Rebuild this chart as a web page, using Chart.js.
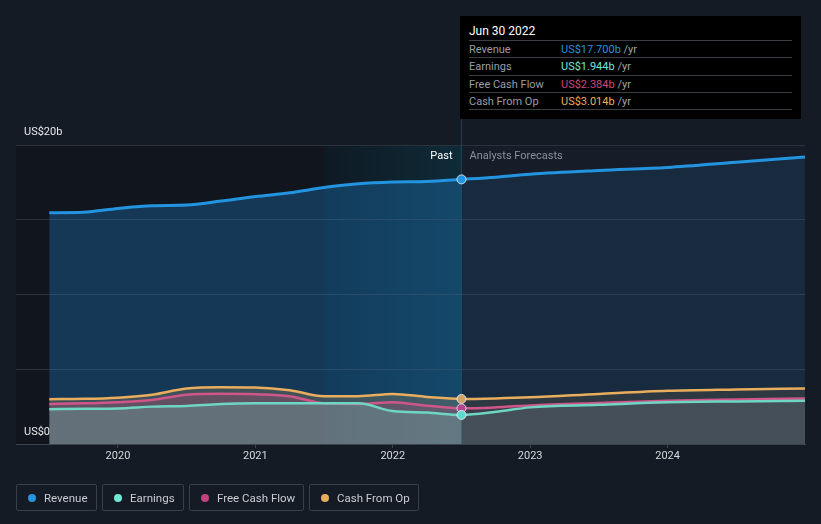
<!DOCTYPE html>
<html>
<head>
<meta charset="utf-8">
<script src="https://cdn.jsdelivr.net/npm/chart.js@4.4.1/dist/chart.umd.min.js"></script>
<style>
  html, body { margin: 0; padding: 0; background: #151b25; }
  body { width: 821px; height: 524px; overflow: hidden; font-family: Roboto, "Open Sans", sans-serif; }
  .wrap { position: relative; width: 821px; height: 524px; }
  canvas { position: absolute; left: 0; top: 0; }
  .tip { position: absolute; left: 460px; top: 16px; width: 341px; height: 103px; background: #000; }
  .tip .ttl { position: absolute; left: 9px; top: 8px; color: #fff; font-size: 12px; }
  .tip .row { position: absolute; left: 9px; width: 323px; height: 17px; border-top: 1px solid #3b3e43; font-size: 11px; line-height: 17px; }
  .tip .row .lb { position: absolute; left: 0; color: #9a9ea5; }
  .tip .row .vl { position: absolute; left: 92px; color: #a0a4aa; }
  .tip .end { position: absolute; left: 9px; top: 93px; width: 323px; border-top: 1px solid #3b3e43; }
  .legend { position: absolute; left: 16px; top: 484px; display: flex; }
  .legend .it { height: 25px; border: 1px solid #3a3f48; border-radius: 2px; margin-right: 5px; display: flex; align-items: center; padding: 0 0 0 11px; color: #c9ccd1; font-size: 11.5px; box-sizing: border-box; height: 27px; white-space: nowrap; overflow: hidden; }
  .legend .dot { width: 8px; height: 8px; border-radius: 50%; margin-right: 8px; flex: none; }
</style>
</head>
<body>
<div class="wrap">
  <canvas id="chart" width="821" height="524"></canvas>
  <div class="tip">
    <div class="ttl">Jun 30 2022</div>
    <div class="row" style="top:24px"><span class="lb">Revenue</span><span class="vl"><span style="color:#2394df">US$17.700b</span> /yr</span></div>
    <div class="row" style="top:41px"><span class="lb">Earnings</span><span class="vl"><span style="color:#71e7d6">US$1.944b</span> /yr</span></div>
    <div class="row" style="top:59px"><span class="lb">Free Cash Flow</span><span class="vl"><span style="color:#c9467f">US$2.384b</span> /yr</span></div>
    <div class="row" style="top:76px"><span class="lb">Cash From Op</span><span class="vl"><span style="color:#e8ad5d">US$3.014b</span> /yr</span></div>
    <div class="end"></div>
  </div>
  <div class="legend">
    <div class="it" style="width:81px"><span class="dot" style="background:#2394df"></span>Revenue</div>
    <div class="it" style="width:82px"><span class="dot" style="background:#71e7d6"></span>Earnings</div>
    <div class="it" style="width:115px"><span class="dot" style="background:#c2427f"></span>Free Cash Flow</div>
    <div class="it" style="width:110px"><span class="dot" style="background:#e8ad5d"></span>Cash From Op</div>
  </div>
</div>
<script>
// time axis in decimal years, past quarters then analyst forecasts
const dates = [2019.5, 2019.75, 2020, 2020.25, 2020.5, 2020.75, 2021, 2021.25, 2021.5, 2021.75, 2022, 2022.25, 2022.5,
               2022.75, 2023, 2023.5, 2024, 2024.5, 2025];
// US$ billions
const revenue  = [15.47, 15.5, 15.76, 15.94, 15.98, 16.25, 16.55, 16.8, 17.15, 17.4, 17.52, 17.56, 17.7,
                  17.85, 18.05, 18.3, 18.5, 18.85, 19.2];
const earnings = [2.32, 2.36, 2.38, 2.5, 2.55, 2.68, 2.72, 2.72, 2.72, 2.72, 2.2, 2.1, 1.944,
                  2.15, 2.45, 2.62, 2.79, 2.85, 2.9];
const freeCashFlow = [2.68, 2.72, 2.8, 2.95, 3.3, 3.36, 3.33, 3.2, 2.72, 2.68, 2.8, 2.56, 2.384,
                  2.45, 2.58, 2.75, 2.9, 2.98, 3.05];
const cashFromOp = [3.0, 3.02, 3.1, 3.3, 3.72, 3.8, 3.78, 3.6, 3.2, 3.2, 3.35, 3.15, 3.014,
                  3.05, 3.12, 3.35, 3.56, 3.65, 3.72];
const yearTicks = [2020, 2021, 2022, 2023, 2024];
const yTickLabels = ['US$0', 'US$20b'];
const nowDate = 2022.5;
const bandStart = 2021.5;

function pts(vals) {
  return dates.map((d, i) => ({ x: d, y: vals[i] }));
}

// fill that is stronger in the past than in the forecast part
function splitFill(rgb, aPast, aFut) {
  return function (ctx) {
    const chart = ctx.chart;
    const area = chart.chartArea;
    if (!area) return 'rgba(' + rgb + ',' + aPast + ')';
    const xs = chart.scales.x;
    const p = Math.min(1, Math.max(0, (xs.getPixelForValue(nowDate) - area.left) / (area.right - area.left)));
    const g = chart.ctx.createLinearGradient(area.left, 0, area.right, 0);
    g.addColorStop(0, 'rgba(' + rgb + ',' + aPast + ')');
    g.addColorStop(p, 'rgba(' + rgb + ',' + aPast + ')');
    g.addColorStop(p, 'rgba(' + rgb + ',' + aFut + ')');
    g.addColorStop(1, 'rgba(' + rgb + ',' + aFut + ')');
    return g;
  };
}

function nowPoint(r) {
  return ctx => (ctx.raw && ctx.raw.x === nowDate ? r : 0);
}

function ds(label, vals, color, rgb, aPast, aFut, width, pointColor) {
  return {
    label: label,
    data: pts(vals),
    borderColor: color,
    borderWidth: width,
    backgroundColor: splitFill(rgb, aPast, aFut),
    fill: 'origin',
    cubicInterpolationMode: 'monotone',
    pointRadius: nowPoint(4.5),
    pointHoverRadius: 0,
    pointBackgroundColor: pointColor,
    pointBorderColor: 'rgba(235,240,245,0.85)',
    pointBorderWidth: 1
  };
}

const backdrop = {
  id: 'backdrop',
  beforeDraw(chart) {
    const c = chart.ctx, a = chart.chartArea, xs = chart.scales.x;
    const xb = xs.getPixelForValue(bandStart), xn = xs.getPixelForValue(nowDate);
    c.save();
    c.fillStyle = '#11151d';
    c.fillRect(a.left, a.top, xb - a.left, a.bottom - a.top);
    const g = c.createLinearGradient(xb, 0, xn, 0);
    g.addColorStop(0, '#0e1a23');
    g.addColorStop(1, '#0f2b38');
    c.fillStyle = g;
    c.fillRect(xb, a.top, xn - xb, a.bottom - a.top);
    c.fillStyle = '#161d28';
    c.fillRect(xn, a.top, a.right - xn, a.bottom - a.top);
    c.restore();
  },
  beforeDatasetsDraw(chart) {
    const c = chart.ctx, a = chart.chartArea, xs = chart.scales.x;
    const xn = Math.round(xs.getPixelForValue(nowDate)) + 0.5;
    c.save();
    c.strokeStyle = '#1e4252';
    c.lineWidth = 1;
    c.beginPath();
    c.moveTo(xn, 16);
    c.lineTo(xn, a.bottom);
    c.stroke();
    c.font = '11px Roboto, sans-serif';
    c.textBaseline = 'middle';
    c.textAlign = 'right';
    c.fillStyle = '#ffffff';
    c.fillText('Past', xn - 9, 156);
    c.textAlign = 'left';
    c.fillStyle = '#8b9099';
    c.fillText('Analysts Forecasts', xn + 8, 156);
    c.fillStyle = '#e6e8eb';
    c.fillText(yTickLabels[1], 24, 132);
    c.fillText(yTickLabels[0], 24, 432);
    c.restore();
  }
};

new Chart(document.getElementById('chart'), {
  type: 'line',
  data: {
    datasets: [
      ds('Earnings', earnings, '#6fd6c3', '110,225,205', 0.22, 0.12, 2.5, '#5ed9cf'),
      ds('Free Cash Flow', freeCashFlow, '#cf5689', '210,80,130', 0.22, 0.1, 2.5, '#b2468c'),
      ds('Cash From Op', cashFromOp, '#e8ad5d', '240,180,95', 0.2, 0.1, 2.5, '#cfa462'),
      ds('Revenue', revenue, '#2394df', '33,150,243', 0.27, 0.11, 3, '#2394df')
    ]
  },
  options: {
    responsive: false,
    animation: false,
    layout: { padding: { left: 16, right: 16, top: 145, bottom: 0 } },
    plugins: { legend: { display: false }, tooltip: { enabled: false } },
    scales: {
      x: {
        type: 'linear',
        min: 2019.258,
        max: 2025,
        afterBuildTicks: s => { s.ticks = yearTicks.map(v => ({ value: v })); },
        afterFit: s => { s.height = 80; },
        ticks: { color: '#d6d9dd', font: { family: 'Roboto', size: 11 }, padding: 2, callback: v => String(v), maxRotation: 0 },
        grid: { drawOnChartArea: false, tickLength: 4, color: '#3d434c' },
        border: { color: '#3d434c' }
      },
      y: {
        min: 0,
        max: 20,
        afterFit: s => { s.width = 0; },
        ticks: { display: false, stepSize: 5 },
        grid: { color: '#2c323b', drawTicks: false },
        border: { display: false }
      }
    }
  },
  plugins: [backdrop]
});
</script>
</body>
</html>
